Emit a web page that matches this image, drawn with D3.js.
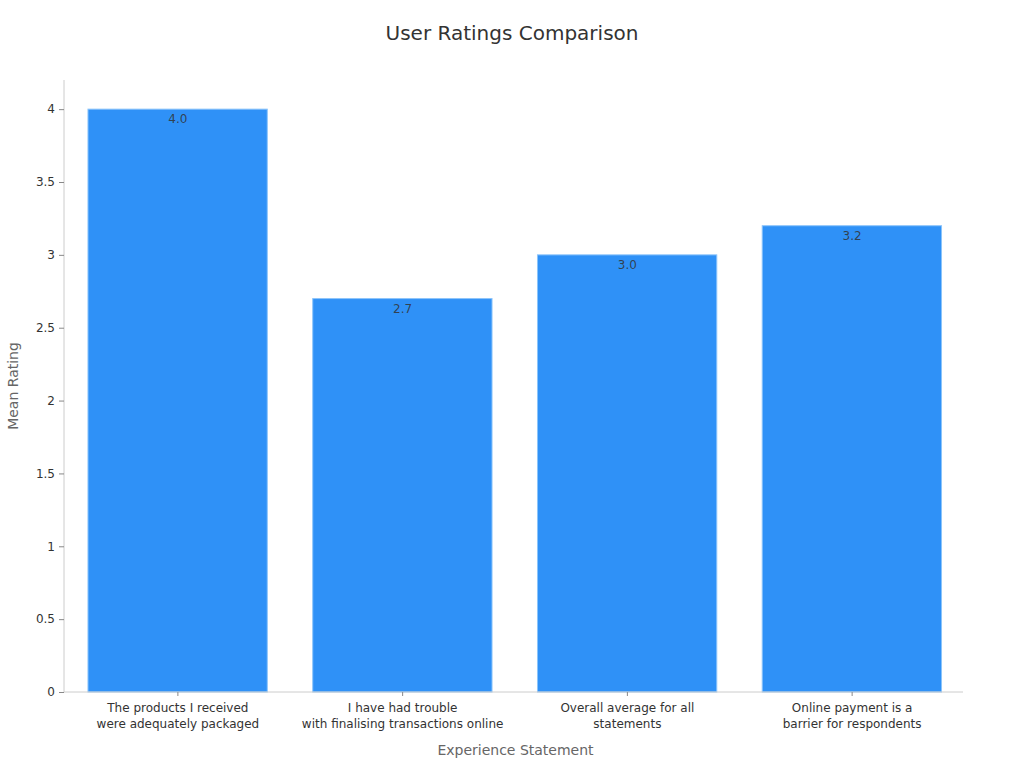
<!DOCTYPE html>
<html lang="en">
<head>
    <meta charset="UTF-8">
    <title>User Ratings Comparison</title>
    <script src="https://d3js.org/d3.v7.min.js"></script>
    <style>
        body { margin: 0; background: #fff; font-family: "DejaVu Sans", sans-serif; }
        svg { display: block; }
    </style>
</head>
<body>
    <svg width="1024" height="768"></svg>

    <script>
        // Data
        const categories = [
            ["The products I received", "were adequately packaged"],
            ["I have had trouble", "with finalising transactions online"],
            ["Overall average for all", "statements"],
            ["Online payment is a", "barrier for respondents"]
        ];
        const ratings = [4.0, 2.7, 3.0, 3.2];
        const yTicks = [0, 0.5, 1, 1.5, 2, 2.5, 3, 3.5, 4];

        const svg = d3.select("svg"),
              margin = {top: 80, right: 61, bottom: 76, left: 64},
              width = +svg.attr("width") - margin.left - margin.right,
              height = +svg.attr("height") - margin.top - margin.bottom;

        const g = svg.append("g").attr("transform", `translate(${margin.left},${margin.top})`);

        // Scales
        const x = d3.scaleBand()
            .domain(d3.range(categories.length))
            .range([1.5, width + 1.5])
            .paddingInner(0.2)
            .paddingOuter(0.1);
        const y = d3.scaleLinear().domain([0, 4.2]).range([height, 0]);

        // Title
        svg.append("text")
            .attr("x", 512).attr("y", 40)
            .attr("text-anchor", "middle")
            .attr("font-size", 20)
            .attr("fill", "#333")
            .text("User Ratings Comparison");

        // Bars
        g.selectAll("rect.bar")
            .data(ratings)
            .join("rect")
            .attr("class", "bar")
            .attr("x", (d, i) => x(i))
            .attr("y", d => y(d))
            .attr("width", x.bandwidth() - 0.5)
            .attr("height", d => height - y(d))
            .attr("fill", "#2f91f7")
            .attr("stroke", "#8cc4fa")
            .attr("stroke-width", 1);

        // Value labels
        g.selectAll("text.val")
            .data(ratings)
            .join("text")
            .attr("class", "val")
            .attr("x", (d, i) => x(i) + x.bandwidth() / 2)
            .attr("y", d => y(d) + 14)
            .attr("text-anchor", "middle")
            .attr("font-size", 12)
            .attr("fill", "#333")
            .attr("fill-opacity", 0.85)
            .text(d => d.toFixed(1));

        // Axes
        const yAxis = g.append("g")
            .call(d3.axisLeft(y).tickValues(yTicks).tickFormat(d3.format("~g")).tickSize(5).tickPadding(4));
        yAxis.select(".domain").attr("stroke", "#ccc").attr("d", `M0,${height}V0`);
        yAxis.selectAll(".tick line").attr("stroke", "#888");
        yAxis.selectAll(".tick text").attr("font-size", 12).attr("fill", "#333")
            .attr("font-family", "DejaVu Sans, sans-serif");

        const xAxis = g.append("g")
            .attr("transform", `translate(0,${height})`)
            .call(d3.axisBottom(x).tickSize(4).tickFormat(""));
        xAxis.select(".domain").attr("stroke", "#ccc").attr("d", `M0,0H${width}`);
        xAxis.selectAll(".tick line").attr("stroke", "#888");
        xAxis.selectAll(".tick text").remove();
        xAxis.selectAll(".tick").append("text")
            .attr("text-anchor", "middle")
            .attr("font-size", 12)
            .attr("fill", "#333")
            .attr("font-family", "DejaVu Sans, sans-serif")
            .selectAll("tspan")
            .data(i => categories[i])
            .join("tspan")
            .attr("x", 0)
            .attr("y", (d, j) => 20 + j * 16)
            .text(d => d);

        // Axis titles
        svg.append("text")
            .attr("x", margin.left + width / 2 + 2).attr("y", 755)
            .attr("text-anchor", "middle")
            .attr("font-size", 14)
            .attr("fill", "#666")
            .text("Experience Statement");

        svg.append("text")
            .attr("transform", "translate(18,386) rotate(-90)")
            .attr("text-anchor", "middle")
            .attr("font-size", 14)
            .attr("fill", "#666")
            .text("Mean Rating");
    </script>
</body>
</html>
